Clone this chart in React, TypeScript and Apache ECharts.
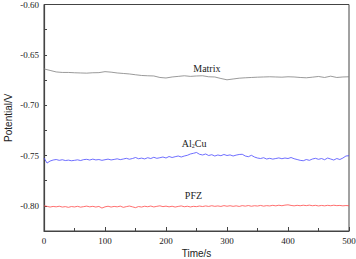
import React, { useEffect, useRef } from "react";
import * as echarts from "echarts";

const STEP_MATRIX = 10;
const STEP_FINE = 5;

const matrixValues = [
  -0.664, -0.6655, -0.667, -0.6675, -0.6675, -0.6678, -0.668, -0.6682, -0.6678, -0.6677,
  -0.6667, -0.6672, -0.668, -0.6685, -0.669, -0.6698, -0.6705, -0.6708, -0.671, -0.6725,
  -0.673, -0.672, -0.6714, -0.6708, -0.6714, -0.671, -0.6708, -0.6718, -0.672, -0.6735,
  -0.6748, -0.674, -0.6732, -0.6728, -0.6725, -0.6722, -0.672, -0.6718, -0.672, -0.6722,
  -0.6718, -0.672, -0.6725, -0.6728, -0.6722, -0.6715, -0.6725, -0.6712, -0.6725, -0.672,
  -0.6718,
];

const al2cuValues = [
  -0.7525, -0.7575, -0.7555, -0.7545, -0.754, -0.7548, -0.7542, -0.755, -0.7546, -0.7552,
  -0.7548, -0.7543, -0.755, -0.7541, -0.7538, -0.7545, -0.7536, -0.7544, -0.754, -0.7548,
  -0.7542, -0.7536, -0.7544, -0.7539, -0.7533, -0.7541, -0.7535, -0.7528, -0.7537, -0.753,
  -0.752, -0.7532, -0.7526, -0.7534, -0.7522, -0.753, -0.7518, -0.7528, -0.7522, -0.7515,
  -0.7525, -0.751, -0.752, -0.7512, -0.7505, -0.7515, -0.7505, -0.7498, -0.7485, -0.7478,
  -0.747, -0.7488, -0.7495, -0.7485, -0.75, -0.7492, -0.7505, -0.7495, -0.7502, -0.749,
  -0.75, -0.7494, -0.7505, -0.7496, -0.749, -0.7488, -0.7505, -0.7512, -0.7498, -0.7515,
  -0.7525, -0.753, -0.7522, -0.7535, -0.7528, -0.7536, -0.753, -0.7524, -0.7532, -0.7525,
  -0.753, -0.752, -0.7532, -0.754, -0.7548, -0.7552, -0.754, -0.7548, -0.7535, -0.7528,
  -0.7538, -0.753, -0.7542, -0.7525, -0.7535, -0.7545, -0.753, -0.754, -0.7525, -0.7505,
  -0.7502,
];

const pfzValues = [
  -0.8, -0.8005, -0.8012, -0.8006, -0.801, -0.8004, -0.8012, -0.8008, -0.8015, -0.8007,
  -0.8011, -0.8005, -0.8013, -0.8008, -0.8003, -0.801, -0.8005, -0.8012, -0.8006, -0.8022,
  -0.801, -0.8004, -0.8012, -0.8006, -0.801, -0.8003, -0.8015, -0.8008, -0.8002, -0.801,
  -0.8018, -0.8007, -0.8012, -0.8004, -0.8009, -0.8002, -0.8011, -0.8005, -0.8, -0.8008,
  -0.8003, -0.801, -0.8004, -0.8012, -0.8006, -0.8001, -0.8009, -0.8004, -0.8011, -0.8005,
  -0.8008, -0.8002, -0.8007, -0.8001, -0.8006, -0.7999, -0.8005, -0.8001, -0.8006, -0.7998,
  -0.8004, -0.7999, -0.8005, -0.8, -0.8006, -0.7998, -0.8003, -0.7997, -0.8004, -0.7999,
  -0.8002, -0.7996, -0.8003, -0.7998, -0.8001, -0.7995, -0.8, -0.7994, -0.7999, -0.7993,
  -0.799, -0.7996, -0.8, -0.7995, -0.7999, -0.7994, -0.7998, -0.7993, -0.7999, -0.7995,
  -0.8001, -0.7996, -0.8, -0.7995, -0.7999, -0.7994, -0.7998, -0.7996, -0.8, -0.7997,
  -0.7999,
];

const labels = [
  { text: "Matrix", coord: [267, -0.664] },
  { text: "Al{sub|2}Cu", coord: [246, -0.7377] },
  { text: "PFZ", coord: [245, -0.79] },
];

const xTicks = { min: 0, max: 500, interval: 100 };
const yTicks = { min: -0.825, max: -0.6, interval: 0.025, labelStep: 0.05 };

const SERIF = "'Liberation Serif', 'Times New Roman', serif";
const SANS = "'Liberation Sans', Arial, sans-serif";

function toPairs(values: number[], step: number) {
  return values.map((v, i) => [i * step, v]);
}

function labelMark(idx: number) {
  const l = labels[idx];
  return {
    symbol: "circle",
    symbolSize: 0,
    silent: true,
    label: {
      show: true,
      position: "inside",
      formatter: l.text,
      color: "#222",
      fontFamily: SERIF,
      fontSize: 10,
      rich: {
        sub: { fontSize: 6, verticalAlign: "bottom", padding: [6, 0, 0, 0], fontFamily: SERIF, color: "#222" },
      },
    },
    data: [{ coord: l.coord }],
  };
}

export default function App() {
  const ref = useRef<HTMLDivElement>(null);
  useEffect(() => {
    if (!ref.current) return;
    const chart = echarts.init(ref.current, undefined, { renderer: "svg" });
    chart.setOption({
      animation: false,
      backgroundColor: "#fff",
      grid: {
        left: 44,
        right: 7,
        top: 4.5,
        bottom: 28,
        show: true,
        borderColor: "#444",
        borderWidth: 1,
        containLabel: false,
        outerBoundsMode: "none",
      },
      xAxis: {
        type: "value",
        min: xTicks.min,
        max: xTicks.max,
        interval: xTicks.interval,
        name: "Time/s",
        nameLocation: "middle",
        nameGap: 17,
        nameMoveOverlap: false,
        nameTextStyle: { fontFamily: SANS, fontSize: 10, color: "#222" },
        axisLine: { show: true, lineStyle: { color: "#444", width: 1.2 } },
        axisTick: { show: true, inside: true, length: 4, lineStyle: { color: "#444" } },
        minorTick: { show: true, splitNumber: 2, length: 3, lineStyle: { color: "#444" } },
        axisLabel: { fontFamily: SERIF, fontSize: 9, color: "#222", margin: 5 },
        splitLine: { show: false },
      },
      yAxis: {
        type: "value",
        min: yTicks.min,
        max: yTicks.max,
        interval: yTicks.interval,
        name: "Potential/V",
        nameLocation: "middle",
        nameGap: 31,
        nameMoveOverlap: false,
        nameTextStyle: { fontFamily: SANS, fontSize: 10, color: "#222" },
        axisLine: { show: true, lineStyle: { color: "#444", width: 1.2 } },
        axisTick: { show: true, inside: true, length: 3, lineStyle: { color: "#444" } },
        axisLabel: {
          fontFamily: SERIF,
          fontSize: 9,
          color: "#222",
          margin: 5,
          formatter: (v: number) => {
            const k = Math.round(v / yTicks.labelStep);
            if (Math.abs(k * yTicks.labelStep - v) > 1e-6) return "";
            if (Math.abs(v - yTicks.min) < 1e-6) return "";
            return v.toFixed(2);
          },
        },
        splitLine: { show: false },
      },
      series: [
        {
          type: "line",
          name: "Matrix",
          data: toPairs(matrixValues, STEP_MATRIX),
          showSymbol: false,
          lineStyle: { color: "#808080", width: 0.8 },
          markPoint: labelMark(0),
        },
        {
          type: "line",
          name: "Al2Cu",
          data: toPairs(al2cuValues, STEP_FINE),
          showSymbol: false,
          lineStyle: { color: "#4a4aff", width: 0.8 },
          markPoint: labelMark(1),
        },
        {
          type: "line",
          name: "PFZ",
          data: toPairs(pfzValues, STEP_FINE),
          showSymbol: false,
          lineStyle: { color: "#ff4a4a", width: 0.8 },
          markPoint: labelMark(2),
        },
      ],
    });
    return () => chart.dispose();
  }, []);
  return (
    <div
      ref={ref}
      style={{ position: "absolute", left: 0, top: 0, width: 356, height: 259 }}
    />
  );
}
